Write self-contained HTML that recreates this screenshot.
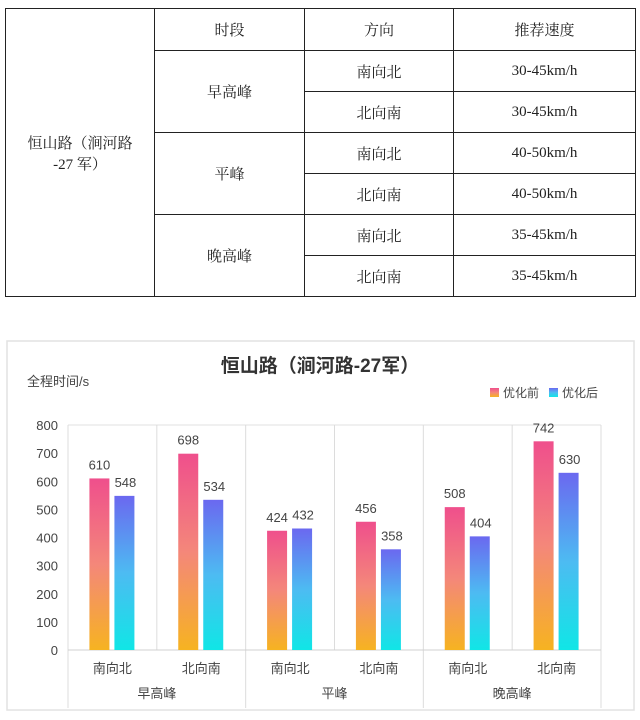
<!DOCTYPE html>
<html><head><meta charset="utf-8"><style>
body{margin:0;width:640px;height:720px;background:#fff;font-family:"Liberation Sans","Noto Sans CJK SC",sans-serif;overflow:hidden}
table{position:absolute;left:5px;top:8px;border-collapse:collapse;width:631px}
td{border:1.3px solid #222;text-align:center;font-size:15px;color:#222;height:40px;padding:0;font-family:"Liberation Serif","Noto Serif CJK SC",serif}
</style></head><body>
<table>
<tr style="height:42px"><td rowspan="7" style="width:148px">恒山路（涧河路<br>-27 军）</td><td style="width:149px">时段</td><td style="width:148px">方向</td><td>推荐速度</td></tr>
<tr><td rowspan="2">早高峰</td><td>南向北</td><td>30-45km/h</td></tr>
<tr><td>北向南</td><td>30-45km/h</td></tr>
<tr><td rowspan="2">平峰</td><td>南向北</td><td>40-50km/h</td></tr>
<tr><td>北向南</td><td>40-50km/h</td></tr>
<tr><td rowspan="2">晚高峰</td><td>南向北</td><td>35-45km/h</td></tr>
<tr><td>北向南</td><td>35-45km/h</td></tr>
</table>
<svg id="chart" width="640" height="720" style="position:absolute;left:0;top:0">
<defs>
<linearGradient id="gPink" x1="0" y1="0" x2="0" y2="1"><stop offset="0" stop-color="#ef4f8c"/><stop offset="0.5" stop-color="#f4877a"/><stop offset="1" stop-color="#f6b321"/></linearGradient>
<linearGradient id="gBlue" x1="0" y1="0" x2="0" y2="1"><stop offset="0" stop-color="#6b68f0"/><stop offset="0.5" stop-color="#4dbbf2"/><stop offset="1" stop-color="#10e6e6"/></linearGradient>
</defs>
<rect x="7" y="341" width="627" height="369" fill="#fff" stroke="#e2e2e2" stroke-width="1.5"/>
<text x="320" y="372" text-anchor="middle" font-size="19" font-weight="bold" fill="#333">恒山路（涧河路-27军）</text>
<text x="27" y="386" font-size="13" fill="#444">全程时间/s</text>
<g>
<rect x="490" y="388" width="9" height="9" fill="url(#gPink)"/><text x="503" y="397" font-size="12" fill="#444">优化前</text>
<rect x="549" y="388" width="9" height="9" fill="url(#gBlue)"/><text x="562" y="397" font-size="12" fill="#444">优化后</text>
</g>
<g id="plot"></g>
</svg>
<script>
const categories=["南向北","北向南","南向北","北向南","南向北","北向南"];
const groups=["早高峰","平峰","晚高峰"];
const before=[610,698,424,456,508,742];
const after=[548,534,432,358,404,630];
const ticks=[0,100,200,300,400,500,600,700,800];
const NS="http://www.w3.org/2000/svg";
const g=document.getElementById("plot");
const x0=68,x1=601,yB=650,yT=425,ymax=800;
const cw=(x1-x0)/categories.length;
const y=v=>yB-(v/ymax)*(yB-yT);
const xc=i=>x0+cw*i;
function mk(t,a,txt){const e=document.createElementNS(NS,t);for(const k in a)e.setAttribute(k,a[k]);if(txt!=null)e.textContent=txt;g.appendChild(e);return e;}
let e=mk("line",{x1:x0,x2:x1,y1:yT,y2:yT,stroke:"#e0e0e0"});


ticks.forEach(t=>{const l=mk("text",{x:58,y:y(t)+5,"text-anchor":"end","font-size":13,fill:"#444"},t);

});
for(let i=0;i<=categories.length;i++){const major=i%2===0;const l=mk("line",{x1:xc(i),x2:xc(i),y1:yT,y2:major?708:yB,stroke:"#dcdcdc"});

}
e=mk("line",{x1:x0,x2:x1,y1:yB,y2:yB,stroke:"#d0d0d0"});


categories.forEach((c,i)=>{
 const bx=xc(i)+cw/2;
 const r1=mk("rect",{x:bx-23,y:y(before[i]),width:20,height:yB-y(before[i]),fill:"url(#gPink)"});
 
 
 const r2=mk("rect",{x:bx+2,y:y(after[i]),width:20,height:yB-y(after[i]),fill:"url(#gBlue)"});
 
 
 const t1=mk("text",{x:bx-13,y:y(before[i])-9,"text-anchor":"middle","font-size":13,fill:"#444"},before[i]);
 
 
 const t2=mk("text",{x:bx+13,y:y(after[i])-9,"text-anchor":"middle","font-size":13,fill:"#444"},after[i]);
 
 
 const cl=mk("text",{x:bx,y:673,"text-anchor":"middle","font-size":13,fill:"#444"},c);
 
 
});
groups.forEach((gname,j)=>{const l=mk("text",{x:xc(j*2+1),y:698,"text-anchor":"middle","font-size":13,fill:"#444"},gname);

});
</script>
</body></html>
